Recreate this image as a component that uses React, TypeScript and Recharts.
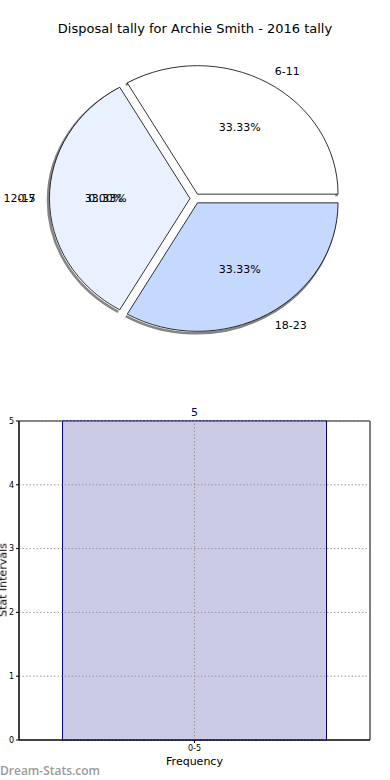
import { PieChart, Pie, Cell, BarChart, Bar, XAxis, YAxis, CartesianGrid, LabelList, ReferenceArea, ReferenceLine } from 'recharts';

const pieNames = ['0-5', '6-11', '12-17', '18-23'];
const pieValues = [0, 1, 1, 1];
const pieColors = ['#ffffff', '#ffffff', '#eaf1fe', '#c5d8fe'];

const barCategories = ['0-5'];
const barValues = [5];
const yTicks = [0, 1, 2, 3, 4, 5];

const pieData = pieNames.map((name, i) => ({ name, value: pieValues[i] }));
const barData = barCategories.map((interval, i) => ({ interval, count: barValues[i] }));

const FONT = '"DejaVu Sans", sans-serif';
const RAD = Math.PI / 180;
const X_STRETCH = 140 / 128; // matplotlib pie is drawn slightly oval
const EXPLODE = 5;
const GRID = { stroke: '#999', strokeDasharray: '1.5 2' };

// elliptical, exploded wedge with a drop shadow on its rim
const Wedge = (props: any) => {
  const { cx, cy, outerRadius, startAngle, endAngle, fill } = props;
  if (Math.abs(endAngle - startAngle) < 0.01) return null;
  const mid = (startAngle + endAngle) / 2;
  const ox = cx + EXPLODE * Math.cos(mid * RAD);
  const oy = cy - EXPLODE * Math.sin(mid * RAD);
  const rx = outerRadius * X_STRETCH;
  const ry = outerRadius;
  const pt = (a: number) => [ox + rx * Math.cos(a * RAD), oy - ry * Math.sin(a * RAD)];
  const [x1, y1] = pt(startAngle);
  const [x2, y2] = pt(endAngle);
  const large = Math.abs(endAngle - startAngle) > 180 ? 1 : 0;
  const arc = `M${x1},${y1} A${rx},${ry} 0 ${large} 0 ${x2},${y2}`;
  const d = `M${ox},${oy} L${x1},${y1} A${rx},${ry} 0 ${large} 0 ${x2},${y2} Z`;
  return (
    <g>
      <path d={arc} transform="translate(-1.5,2)" fill="none" stroke="#666" strokeWidth={2.5} strokeOpacity={0.8} />
      <path d={d} fill={fill} stroke="#000" strokeWidth={0.8} />
    </g>
  );
};

const renderLabel = (props: any) => {
  const { cx, cy, outerRadius, midAngle, percent, name } = props;
  // matplotlib puts the empty 0-5 wedge's text on the left side
  const ang = percent === 0 ? 180 : midAngle;
  const c = Math.cos(ang * RAD);
  const s = Math.sin(ang * RAD);
  const ox = cx + EXPLODE * c;
  const oy = cy - EXPLODE * s;
  const rx = outerRadius * X_STRETCH;
  const ry = outerRadius;
  return (
    <g>
      <text x={ox + 1.1 * rx * c} y={oy - 1.1 * ry * s} textAnchor={c >= 0 ? 'start' : 'end'} dominantBaseline="central" fontSize={11} fontFamily={FONT} fill="#000">
        {name}
      </text>
      <text x={ox + 0.6 * rx * c} y={oy - 0.6 * ry * s} textAnchor="middle" dominantBaseline="central" fontSize={11} fontFamily={FONT} fill="#000">
        {(percent * 100).toFixed(2)}%
      </text>
    </g>
  );
};

export default function App() {
  return (
    <div style={{ position: 'fixed', left: 0, top: 0, width: 390, height: 780, background: '#fff', fontFamily: FONT }}>
      <div style={{ position: 'absolute', top: 21, left: 0, width: 390, textAlign: 'center', fontSize: 13, color: '#000' }}>
        Disposal tally for Archie Smith - 2016 tally
      </div>
      <div style={{ position: 'absolute', top: 0, left: 0 }}>
        <PieChart width={390} height={370} margin={{ top: 0, right: 0, bottom: 0, left: 0 }}>
          <Pie
            data={pieData}
            dataKey="value"
            nameKey="name"
            cx={195}
            cy={198.5}
            outerRadius={128.5}
            startAngle={0}
            endAngle={360}
            shape={Wedge}
            label={renderLabel}
            labelLine={false}
            isAnimationActive={false}
          >
            {pieData.map((d, i) => (
              <Cell key={d.name} fill={pieColors[i]} />
            ))}
          </Pie>
        </PieChart>
      </div>
      <div style={{ position: 'absolute', top: 380, left: 0 }}>
        <BarChart width={390} height={400} data={barData} margin={{ top: 41, right: 20, bottom: 10, left: 0 }} barCategoryGap="12.4%">
          <XAxis
            dataKey="interval"
            tick={{ fontSize: 8, fill: '#000', fontFamily: FONT }}
            tickSize={3}
            tickLine={{ stroke: '#000' }}
            axisLine={{ stroke: '#000' }}
            height={30}
            label={{ value: 'Frequency', position: 'insideBottom', offset: 5, fontSize: 11, fill: '#000', fontFamily: FONT }}
          />
          <YAxis
            domain={[0, 5]}
            ticks={yTicks}
            width={19}
            tick={{ fontSize: 8, fill: '#000', fontFamily: FONT }}
            tickSize={3}
            tickLine={{ stroke: '#000' }}
            axisLine={{ stroke: '#000' }}
          />
          <Bar dataKey="count" fill="#cbcbe5" stroke="#000080" strokeWidth={1} isAnimationActive={false}>
            <LabelList dataKey="count" position="top" offset={5} fill="#000080" fontSize={11} fontFamily={FONT} />
          </Bar>
          {/* matplotlib draws its dotted grid on top of the bars */}
          {yTicks.map((t) => (
            <ReferenceLine key={t} y={t} {...GRID} />
          ))}
          {barCategories.map((c) => (
            <ReferenceLine key={c} x={c} {...GRID} />
          ))}
          <ReferenceArea y1={0} y2={5} fill="none" stroke="#000" strokeWidth={1} ifOverflow="visible" />
        </BarChart>
      </div>
      <div style={{ position: 'absolute', left: -7, top: 580, transform: 'translate(-50%, -50%) rotate(-90deg)', transformOrigin: 'center', fontSize: 11, whiteSpace: 'nowrap', color: '#000', marginLeft: 10 }}>
        Stat Intervals
      </div>
      <div style={{ position: 'absolute', left: 0, top: 762, fontSize: 12, fontWeight: 600, fontFamily: '"Open Sans", sans-serif', color: '#9a9a9a' }}>
        Dream-Stats.com
      </div>
    </div>
  );
}
